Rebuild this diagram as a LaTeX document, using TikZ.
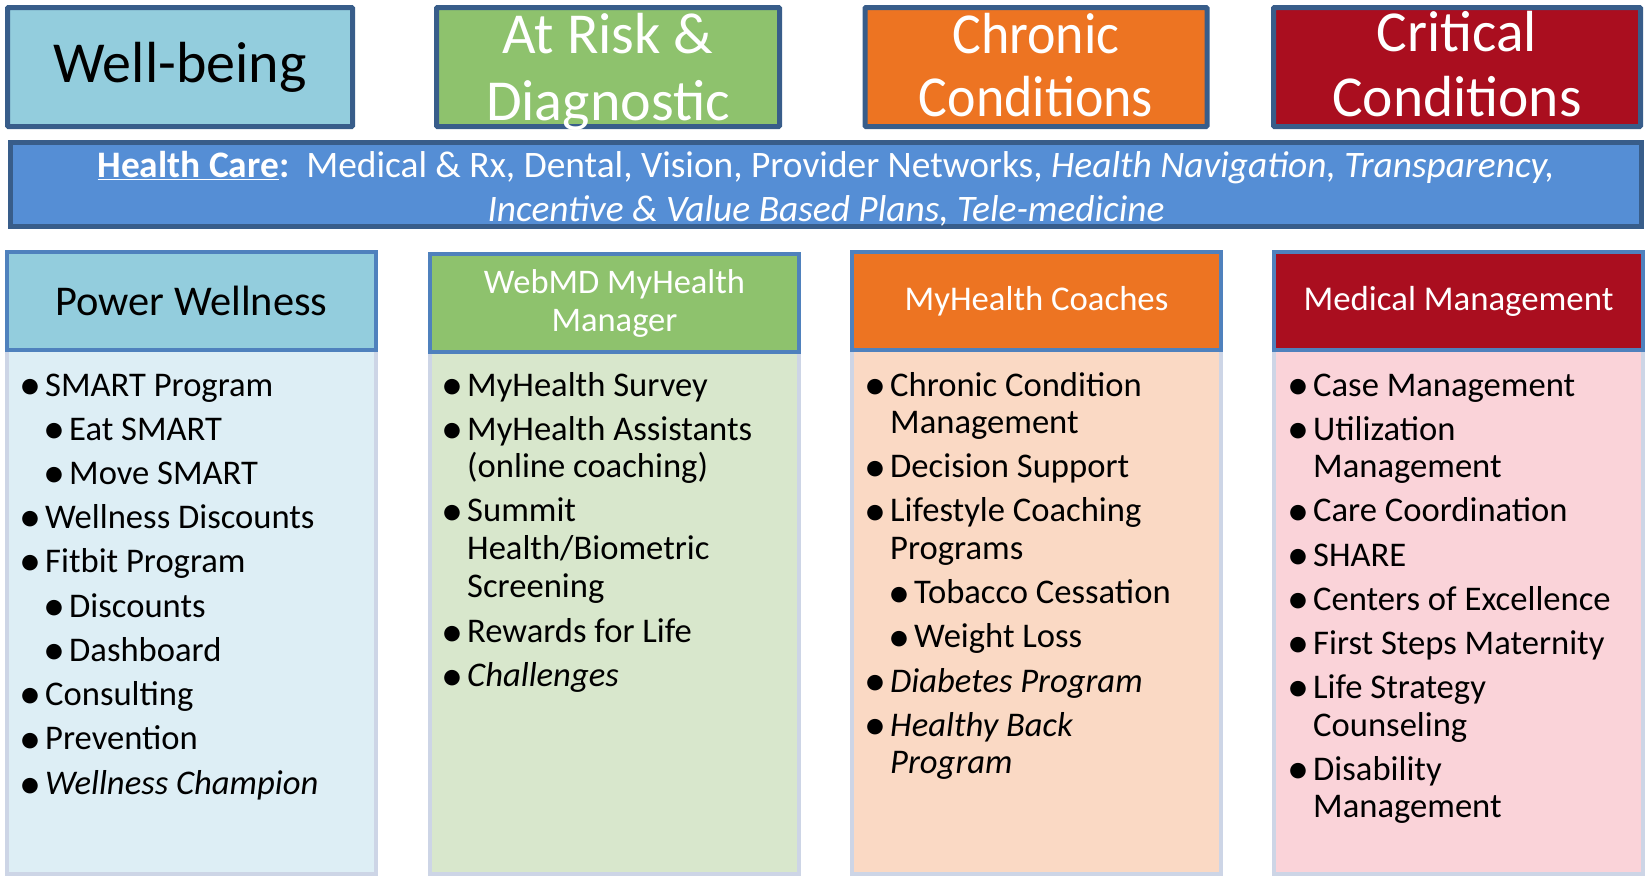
\documentclass[tikz,border=0pt]{standalone}
\usepackage{fontspec}
\setmainfont{Carlito}

\definecolor{frameblue}{HTML}{385D8A}
\definecolor{headframe}{HTML}{4F81BD}
\definecolor{bodyframe}{HTML}{CDD5E6}
\definecolor{wellblue}{HTML}{93CDDD}
\definecolor{riskgreen}{HTML}{8EC26D}
\definecolor{chronorange}{HTML}{ED7422}
\definecolor{critred}{HTML}{AA0E1F}
\definecolor{carebar}{HTML}{558ED5}
\definecolor{lightblue}{HTML}{DDEEF5}
\definecolor{lightgreen}{HTML}{D8E7CC}
\definecolor{lightpeach}{HTML}{FAD9C4}
\definecolor{lightpink}{HTML}{FAD3D9}

% list bullet: a slightly larger dot, set back into the indent and lowered
\newcommand{\bul}{\makebox[16pt][l]{\hspace*{-9.5pt}\raisebox{-3.8pt}{\fontsize{44}{44}\selectfont\textbullet}}}

\tikzset{
  topbox/.style={draw=frameblue, line width=5pt, rounded corners=1pt, inner sep=0pt,
    minimum height=119pt, align=center},
  bigtext/.style={font=\fontsize{58}{66}\selectfont},
  headbox/.style={draw=headframe, line width=4pt, inner sep=0pt,
    minimum width=369pt, minimum height=98pt, align=center},
  bodybox/.style={draw=bodyframe, line width=4pt, inner sep=0pt,
    minimum width=369pt, minimum height=524pt},
  itm/.style={anchor=base west, inner sep=0pt, font=\fontsize{34.6}{40}\selectfont},
}

\begin{document}
\begin{tikzpicture}[x=1pt,y=-1pt]
\useasboundingbox (0,0) rectangle (1646,878);

% category boxes along the top
\node[topbox, fill=wellblue, minimum width=345pt, bigtext] (wb) at (180,67) {Well-being};
\node[topbox, fill=riskgreen, minimum width=343pt, text=white] (risk) at (608,67) {};
\node[text=white, inner sep=0pt, align=center, font=\fontsize{58}{67}\selectfont] (risktext) at (608,72)
  {At Risk \&\\[0pt]Diagnostic};
\node[topbox, fill=chronorange, minimum width=342pt] (chron) at (1036,67) {};
\node[text=white, inner sep=0pt, bigtext] (chrontext) at (1036,72)
  {\scalebox{0.93}[1]{\begin{tabular}{@{}c@{}}Chronic\\[-3pt]Conditions\end{tabular}}};
\node[topbox, fill=critred, minimum width=367pt] (crit) at (1457,67) {};
\node[text=white, inner sep=0pt, bigtext] (crittext) at (1457,71)
  {\scalebox{0.99}[1]{\begin{tabular}{@{}c@{}}Critical\\[-1pt]Conditions\end{tabular}}};

% health care bar
\node[draw=frameblue, line width=5pt, fill=carebar, minimum width=1631pt, minimum height=84pt,
  inner sep=0pt] (care) at (826,184.5) {};
\node[text=white, align=center, inner sep=0pt, font=\fontsize{37.4}{44}\selectfont]
  (caretext) at (826,189)
  {\textbf{\underline{Health Care}:}\ \ Medical \& Rx, Dental, Vision, Provider Networks, \textit{Health Navigation, Transparency,}\\
   \textit{Incentive \& Value Based Plans, Tele-medicine}};

% program columns: bodies first, headers on top
\node[bodybox, fill=lightblue]  (b1) at (191.5,612) {};
\node[bodybox, fill=lightgreen] (b2) at (614.5,612) {};
\node[bodybox, fill=lightpeach] (b3) at (1036.5,612) {};
\node[bodybox, fill=lightpink]  (b4) at (1458.5,612) {};

\node[headbox, fill=wellblue, font=\fontsize{42.4}{48}\selectfont] (h1) at (191.5,301) {Power Wellness};
\node[headbox, fill=riskgreen, text=white, font=\fontsize{34.5}{38}\selectfont] (h2) at (614.5,303)
  {WebMD MyHealth\\Manager};
\node[headbox, fill=chronorange, text=white, font=\fontsize{34.7}{38}\selectfont] (h3) at (1036.5,301)
  {\raisebox{-3pt}{MyHealth Coaches}};
\node[headbox, fill=critred, text=white, font=\fontsize{34.8}{38}\selectfont] (h4) at (1458.5,301)
  {\raisebox{-3pt}{Medical Management}};

% Power Wellness items
\node[itm] (p1) at (29,396) {\bul SMART Program};
\node[itm] (p2) at (53,440) {\bul Eat SMART};
\node[itm] (p3) at (53,484) {\bul Move SMART};
\node[itm] (p4) at (29,528) {\bul Wellness Discounts};
\node[itm] (p5) at (29,572) {\bul Fitbit Program};
\node[itm] (p6) at (53,617) {\bul Discounts};
\node[itm] (p7) at (53,661) {\bul Dashboard};
\node[itm] (p8) at (29,705) {\bul Consulting};
\node[itm] (p9) at (29,749.5) {\bul Prevention};
\node[itm] (p10) at (29,794.5) {\bul\textit{Wellness Champion}};

% WebMD MyHealth Manager items
\node[itm] (w1) at (451,396) {\bul MyHealth Survey};
\node[itm] (w2) at (451,440) {\bul MyHealth Assistants};
\node[itm] (w2b) at (467,477.5) {(online coaching)};
\node[itm] (w3) at (451,521.5) {\bul Summit};
\node[itm] (w3b) at (467,559.5) {Health/Biometric};
\node[itm] (w3c) at (467,597.5) {Screening};
\node[itm] (w4) at (451,642.5) {\bul Rewards for Life};
\node[itm] (w5) at (451,686.5) {\bul\textit{Challenges}};

% MyHealth Coaches items
\node[itm] (m1) at (874,396) {\bul Chronic Condition};
\node[itm] (m1b) at (890,433.5) {Management};
\node[itm] (m2) at (874,477.5) {\bul Decision Support};
\node[itm] (m3) at (874,521.5) {\bul Lifestyle Coaching};
\node[itm] (m3b) at (890,559.5) {Programs};
\node[itm] (m4) at (898,603.5) {\bul Tobacco Cessation};
\node[itm] (m5) at (898,647.5) {\bul Weight Loss};
\node[itm] (m6) at (874,692) {\bul\textit{Diabetes Program}};
\node[itm] (m7) at (874,736) {\bul\textit{Healthy Back}};
\node[itm] (m7b) at (890,773.5) {\textit{Program}};

% Medical Management items
\node[itm] (c1) at (1297,396) {\bul Case Management};
\node[itm] (c2) at (1297,440) {\bul Utilization};
\node[itm] (c2b) at (1313,477.5) {Management};
\node[itm] (c3) at (1297,521.5) {\bul Care Coordination};
\node[itm] (c4) at (1297,566) {\bul SHARE};
\node[itm] (c5) at (1297,610) {\bul Centers of Excellence};
\node[itm] (c6) at (1297,654) {\bul First Steps Maternity};
\node[itm] (c7) at (1297,698) {\bul Life Strategy};
\node[itm] (c7b) at (1313,736) {Counseling};
\node[itm] (c8) at (1297,780) {\bul Disability};
\node[itm] (c8b) at (1313,817.5) {Management};
\end{tikzpicture}
\end{document}
